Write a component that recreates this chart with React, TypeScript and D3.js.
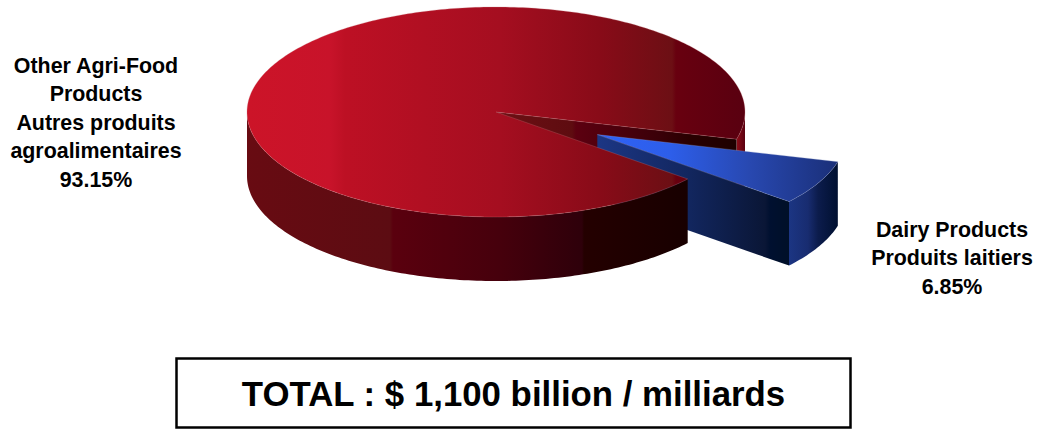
import * as d3 from "d3";

const CATEGORIES = ["Dairy Products", "Other Agri-Food Products"];
const VALUES = [6.85, 93.15];
const DAIRY_LABEL = ["Dairy Products", "Produits laitiers", "6.85%"];
const OTHER_LABEL = ["Other Agri-Food", "Products", "Autres produits", "agroalimentaires", "93.15%"];
const TOTAL_LABEL = "TOTAL : $ 1,100 billion / milliards";

const WIDTH = 1038;
const HEIGHT = 429;
const FONT = "'Liberation Sans', Arial, sans-serif";
const CX = 496;
const CY = 112;
const RX = 249;
const RY = 105;
const DEPTH = 64;
const EXPLODE = 0.458;
const rad = (deg: number) => (deg * Math.PI) / 180;

type Stop = [number, string];

// colours sampled across the x axis; doubled offsets give the hard bands of the original
const RED_TOP: Stop[] = [
  [247, "#cc1428"], [330, "#c8132a"], [345, "#bd1024"], [500, "#a50e20"], [600, "#880b18"],
  [672, "#6c0f14"], [676, "#68000f"], [745, "#590010"],
];
const RED_WALL: Stop[] = [
  [247, "#680b12"], [390, "#5c0c12"], [393, "#5a000e"], [500, "#46000c"], [582, "#2e000a"],
  [584, "#240000"], [687, "#180000"],
];
const RED_CUT: Stop[] = [
  [496, "#6e1014"], [572, "#5e0c10"], [576, "#5c0010"], [660, "#3a0008"], [690, "#280000"],
  [737, "#1e0000"],
];
const RED_SLIVER: Stop[] = [[737, "#8a0c18"], [745, "#5a0010"]];
const BLUE_TOP: Stop[] = [
  [598, "#2f62f6"], [670, "#2d5eea"], [750, "#2848b0"], [838, "#1a2f78"],
];
const BLUE_WALL: Stop[] = [
  [598, "#1c3684"], [690, "#12265e"], [765, "#0a1636"], [770, "#001030"], [788, "#001028"],
];
const BLUE_OUTER: Stop[] = [
  [788, "#1c3684"], [808, "#182c70"], [818, "#0c1c4c"], [838, "#001030"],
];

const GRADIENTS: Record<string, Stop[]> = {
  redTop: RED_TOP,
  redWall: RED_WALL,
  redCut: RED_CUT,
  redSliver: RED_SLIVER,
  blueTop: BLUE_TOP,
  blueWall: BLUE_WALL,
  blueOuter: BLUE_OUTER,
};

const line = d3.line<[number, number]>();

// project a d3 pie angle onto the tilted ellipse
function pt(a: number, dx = 0, dy = 0, drop = 0): [number, number] {
  return [CX + dx + RX * Math.sin(a), CY + dy - RY * Math.cos(a) + drop];
}

function arcPts(a0: number, a1: number, dx = 0, dy = 0, drop = 0) {
  const n = Math.max(2, Math.ceil(Math.abs(a1 - a0) / rad(1)));
  return d3.range(n + 1).map((i) => pt(a0 + ((a1 - a0) * i) / n, dx, dy, drop));
}

function topPath(a0: number, a1: number, dx = 0, dy = 0) {
  return line([[CX + dx, CY + dy], ...arcPts(a0, a1, dx, dy)]) + "Z";
}

function wallPath(a0: number, a1: number, dx = 0, dy = 0) {
  return line([...arcPts(a0, a1, dx, dy), ...arcPts(a1, a0, dx, dy, DEPTH)]) + "Z";
}

function cutPath(a: number, dx = 0, dy = 0) {
  const o: [number, number] = [CX + dx, CY + dy];
  const e = pt(a, dx, dy);
  return line([o, e, [e[0], e[1] + DEPTH], [o[0], o[1] + DEPTH]]) + "Z";
}

export default function App() {
  const pie = d3
    .pie<number>()
    .sort(null)
    .startAngle(rad(105))
    .endAngle(rad(465));
  const [dairy, other] = pie(VALUES);

  const mid = (dairy.startAngle + dairy.endAngle) / 2;
  const ex = EXPLODE * RX * Math.sin(mid);
  const ey = -EXPLODE * RY * Math.cos(mid) + 0.5;

  const labelY = d3.scaleLinear().domain([0, 1]).range([0, 28.4]);

  return (
    <svg
      width={WIDTH}
      height={HEIGHT}
      style={{ position: "absolute", left: 0, top: 0, background: "#fff" }}
    >
      <title>{CATEGORIES.join(" / ")}</title>
      <defs>
        {Object.entries(GRADIENTS).map(([id, stops]) => {
          const x0 = stops[0][0];
          const x1 = stops[stops.length - 1][0];
          return (
            <linearGradient key={id} id={id} gradientUnits="userSpaceOnUse" x1={x0} x2={x1} y1={0} y2={0}>
              {stops.map(([x, c]) => (
                <stop key={x} offset={(x - x0) / (x1 - x0)} stopColor={c} />
              ))}
            </linearGradient>
          );
        })}
      </defs>

      {/* back of the red slice, seen through the gap */}
      <path d={wallPath(rad(90), dairy.startAngle)} fill="url(#redSliver)" />
      <path d={cutPath(dairy.startAngle)} fill="url(#redCut)" />

      {/* exploded dairy slice */}
      <path d={cutPath(dairy.endAngle, ex, ey)} fill="url(#blueWall)" />
      <path d={wallPath(dairy.startAngle, dairy.endAngle, ex, ey)} fill="url(#blueOuter)" />
      <path
        d={topPath(dairy.startAngle, dairy.endAngle, ex, ey)}
        fill="url(#blueTop)"
        stroke="#8f9fc8"
        strokeOpacity={0.5}
        strokeWidth={0.6}
      />

      {/* red slice, front */}
      <path d={wallPath(dairy.endAngle, rad(270))} fill="url(#redWall)" />
      <path
        d={topPath(other.startAngle, other.endAngle)}
        fill="url(#redTop)"
        stroke="#d08088"
        strokeOpacity={0.45}
        strokeWidth={0.6}
      />

      <g fontFamily={FONT} fontWeight="bold" fontSize={21.4} fill="#000" textAnchor="middle">
        {OTHER_LABEL.map((t, i) => (
          <text key={i} x={96} y={73 + labelY(i)}>{t}</text>
        ))}
        {DAIRY_LABEL.map((t, i) => (
          <text key={i} x={952} y={237 + labelY(i)}>{t}</text>
        ))}
      </g>

      <rect x={176.5} y={358.5} width={674} height={69} fill="#fff" stroke="#000" strokeWidth={2.5} />
      <text
        x={513.5}
        y={406}
        fontFamily={FONT}
        fontWeight="bold"
        fontSize={34.8}
        textAnchor="middle"
        fill="#000"
      >
        {TOTAL_LABEL}
      </text>
    </svg>
  );
}
